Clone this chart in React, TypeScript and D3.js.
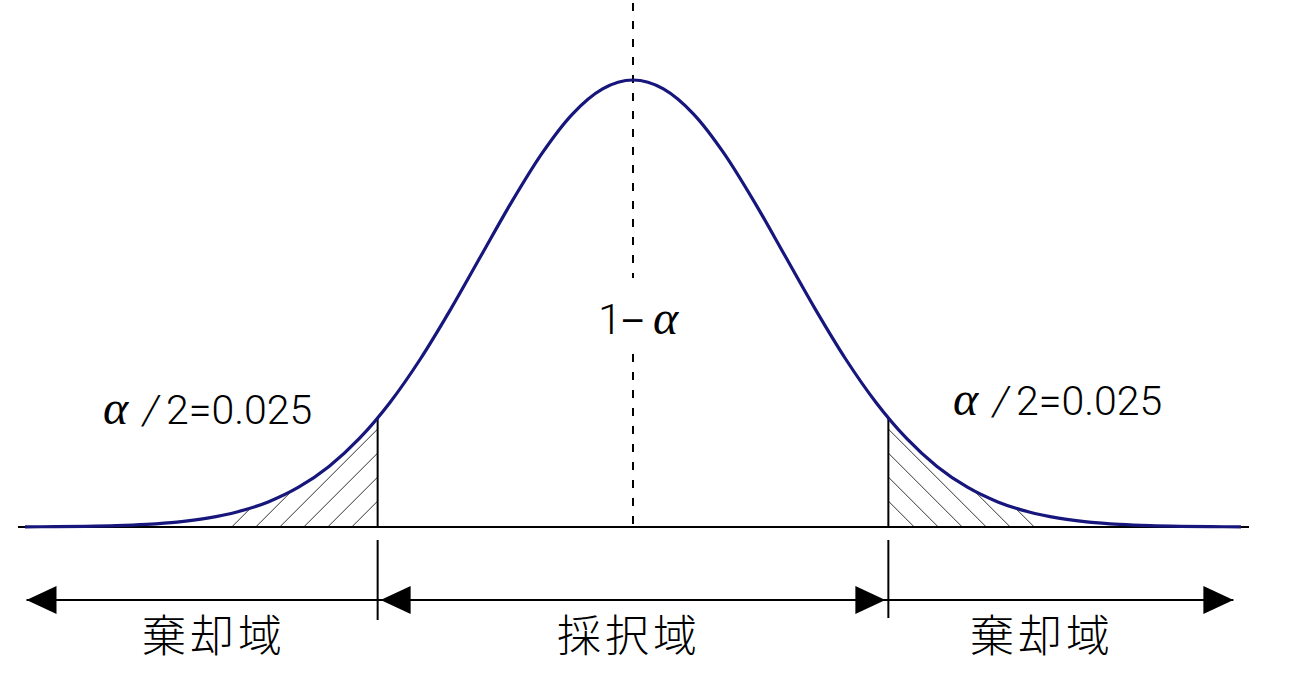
import React from "react";
import * as d3 from "d3";

// standard normal z values and density
const Z_VALUES = [
  -4.0, -3.8, -3.6, -3.4, -3.2, -3.0, -2.8, -2.6, -2.4, -2.2, -2.0, -1.8, -1.6, -1.4, -1.2, -1.0, -0.8, -0.6, -0.4, -0.2,
  0.0, 0.2, 0.4, 0.6, 0.8, 1.0, 1.2, 1.4, 1.6, 1.8, 2.0, 2.2, 2.4, 2.6, 2.8, 3.0, 3.2, 3.4, 3.6, 3.8, 4.0,
];
const DENSITY = [
  0.0001, 0.0003, 0.0006, 0.0012, 0.0024, 0.0044, 0.0079, 0.0136, 0.0224, 0.0355, 0.054, 0.079, 0.1109, 0.1497, 0.1942,
  0.242, 0.2897, 0.3332, 0.3683, 0.391, 0.3989, 0.391, 0.3683, 0.3332, 0.2897, 0.242, 0.1942, 0.1497, 0.1109, 0.079,
  0.054, 0.0355, 0.0224, 0.0136, 0.0079, 0.0044, 0.0024, 0.0012, 0.0006, 0.0003, 0.0001,
];
const CRITICAL_Z = 1.68;
const TAIL_VALUE = "2=0.025";
const REJECT_LABEL = "棄却域";
const ACCEPT_LABEL = "採択域";

const W = 1300;
const H = 681;
const BASE_Y = 527;
const ARROW_Y = 600;
const HATCH_START_Z = 2.64;
const HATCH_STEP = 24;
const HATCH_COUNT = 6;

export default function App() {
  const x = d3.scaleLinear().domain([-4, 4]).range([25, 1241]);
  const y = d3.scaleLinear().domain([0, 0.3989]).range([BASE_Y, 80]);
  const pts = Z_VALUES.map((z, i) => ({ z, d: DENSITY[i] }));

  const line = d3
    .line<{ z: number; d: number }>()
    .x((p) => x(p.z))
    .y((p) => y(p.d))
    .curve(d3.curveMonotoneX);
  const area = d3
    .area<{ z: number; d: number }>()
    .x((p) => x(p.z))
    .y0(BASE_Y)
    .y1((p) => y(p.d))
    .curve(d3.curveMonotoneX);

  const xL = x(-CRITICAL_Z);
  const xR = x(CRITICAL_Z);
  const xC = x(0);
  const leftStart = x(-HATCH_START_Z);
  const rightEnd = x(HATCH_START_Z);
  const leftHatch = d3.range(HATCH_COUNT).map((i) => leftStart + i * HATCH_STEP);
  const rightHatch = d3.range(HATCH_COUNT).map((i) => rightEnd - i * HATCH_STEP);

  const tipL = x(-3.99);
  const tipR = x(3.95);
  const AL = 30;
  const AH = 14;
  const arrowLeft = (tx: number) => `M${tx},${ARROW_Y} L${tx + AL},${ARROW_Y - AH} L${tx + AL},${ARROW_Y + AH} Z`;
  const arrowRight = (tx: number) => `M${tx},${ARROW_Y} L${tx - AL},${ARROW_Y - AH} L${tx - AL},${ARROW_Y + AH} Z`;

  const latin = "Roboto, 'Liberation Sans', Arial, sans-serif";
  const alphaFont = "'Liberation Serif', serif";
  const cjk = "'Noto Sans CJK JP', sans-serif";

  const TailLabel = ({ x0, y0 }: { x0: number; y0: number }) => (
    <text y={y0} fontFamily={latin} fontWeight={300} fontSize={41} fill="#000">
      <tspan x={x0} fontFamily={alphaFont} fontStyle="italic" fontSize={48}>α</tspan>
      <tspan x={x0 + 40} fontStyle="italic">/</tspan>
      <tspan x={x0 + 63}>{TAIL_VALUE}</tspan>
    </text>
  );

  return (
    <svg width={W} height={H} style={{ position: "absolute", left: 0, top: 0, background: "#fff" }}>
      <defs>
        <clipPath id="areaClip">
          <path d={area(pts) || ""} />
        </clipPath>
        <clipPath id="leftClip">
          <rect x={0} y={0} width={xL} height={BASE_Y} />
        </clipPath>
        <clipPath id="rightClip">
          <rect x={xR} y={0} width={W - xR} height={BASE_Y} />
        </clipPath>
      </defs>

      {/* center dashed line */}
      <g stroke="#000" strokeWidth={2} strokeDasharray="8 10">
        <line x1={xC} x2={xC} y1={3} y2={278} />
        <line x1={xC} x2={xC} y1={354} y2={BASE_Y} />
      </g>

      {/* hatching */}
      <g clipPath="url(#areaClip)">
        <g clipPath="url(#leftClip)" stroke="#333" strokeWidth={1}>
          {leftHatch.map((b, i) => (
            <line key={i} x1={b} y1={BASE_Y} x2={b + 300} y2={BASE_Y - 300} />
          ))}
        </g>
        <g clipPath="url(#rightClip)" stroke="#333" strokeWidth={1}>
          {rightHatch.map((b, i) => (
            <line key={i} x1={b} y1={BASE_Y} x2={b - 300} y2={BASE_Y - 300} />
          ))}
        </g>
        <g stroke="#000" strokeWidth={2}>
          <line x1={xL} x2={xL} y1={BASE_Y} y2={0} />
          <line x1={xR} x2={xR} y1={BASE_Y} y2={0} />
        </g>
      </g>

      {/* baseline */}
      <line x1={18} x2={1249} y1={BASE_Y} y2={BASE_Y} stroke="#000" strokeWidth={2} />

      {/* curve */}
      <path d={line(pts) || ""} fill="none" stroke="#16167c" strokeWidth={3.2} strokeLinejoin="round" />

      {/* region lines below */}
      <g stroke="#000" strokeWidth={2}>
        <line x1={xL} x2={xL} y1={540} y2={620} />
        <line x1={xR} x2={xR} y1={540} y2={618} />
        <line x1={tipL} x2={tipR} y1={ARROW_Y} y2={ARROW_Y} />
      </g>
      <g fill="#000">
        <path d={arrowLeft(tipL)} />
        <path d={arrowLeft(xL + 3)} />
        <path d={arrowRight(xR - 3)} />
        <path d={arrowRight(tipR)} />
      </g>

      {/* labels */}
      <text y={334} fontFamily={latin} fontWeight={300} fontSize={43} fill="#000">
        <tspan x={598}>1</tspan>
        <tspan x={621} fontFamily="'Liberation Sans', Arial, sans-serif" fontSize={40}>−</tspan>
        <tspan x={653} fontFamily={alphaFont} fontStyle="italic" fontSize={48}>α</tspan>
      </text>
      <TailLabel x0={103} y0={424} />
      <TailLabel x0={953} y0={415} />

      <g fontFamily={cjk} fontWeight={300} fontSize={44} textAnchor="middle" fill="#000">
        <text x={212} y={652} textLength={140} lengthAdjust="spacing">{REJECT_LABEL}</text>
        <text x={627} y={652} textLength={140} lengthAdjust="spacing">{ACCEPT_LABEL}</text>
        <text x={1040} y={652} textLength={140} lengthAdjust="spacing">{REJECT_LABEL}</text>
      </g>
    </svg>
  );
}
